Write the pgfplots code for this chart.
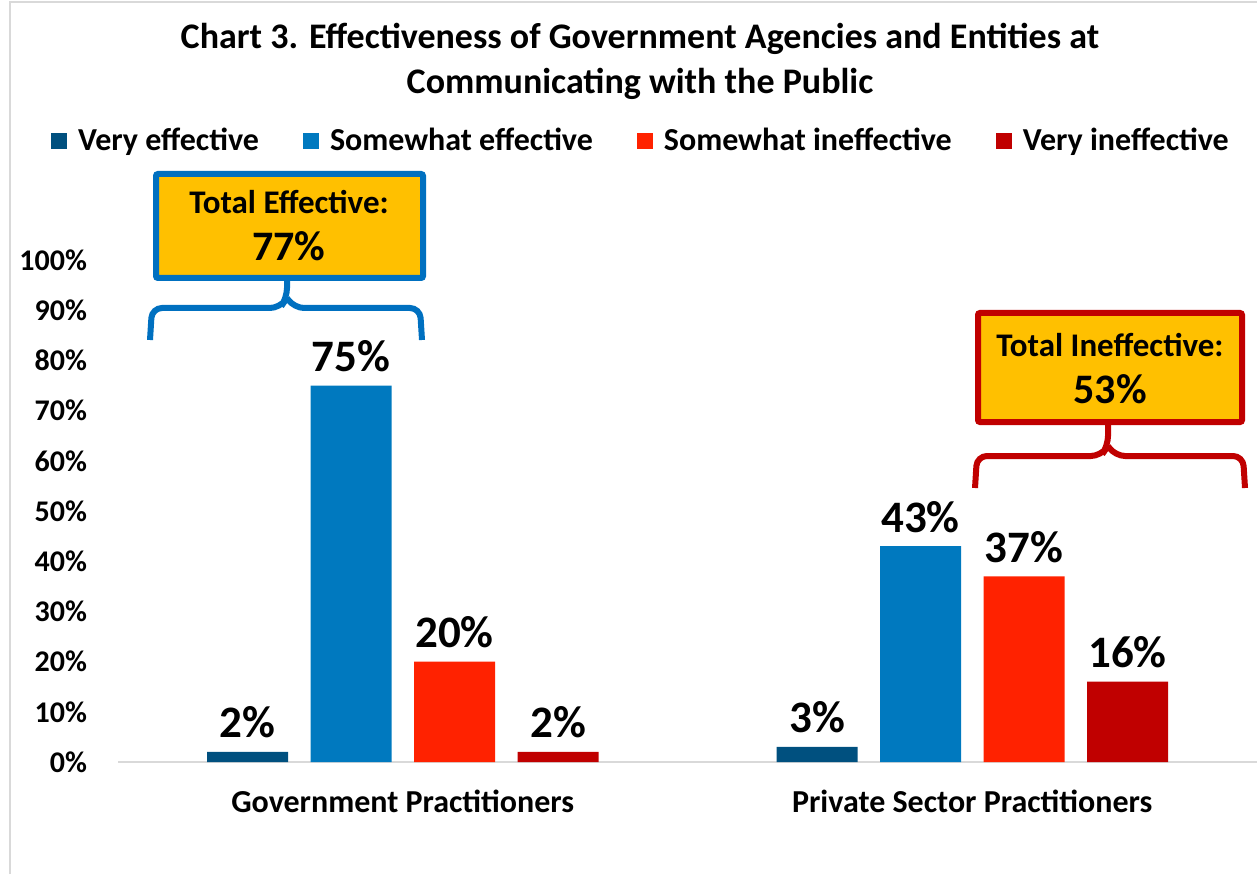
\documentclass[border=0pt]{standalone}
\usepackage{fontspec}
\setmainfont{Carlito}
\usepackage{pgfplots}
\pgfplotsset{compat=1.18}
\definecolor{veff}{HTML}{00507F}
\definecolor{seff}{HTML}{0079BF}
\definecolor{sineff}{HTML}{FF2200}
\definecolor{vineff}{HTML}{C00000}
\definecolor{callgold}{HTML}{FFC000}
\definecolor{callblue}{HTML}{0070C0}
\definecolor{frame}{HTML}{D9D9D9}
\begin{document}
\begin{tikzpicture}
\useasboundingbox (0,0) rectangle (628.5pt,437pt);
\begin{axis}[
  at={(59pt,56pt)}, anchor=south west,
  scale only axis, width=569.5pt, height=251pt,
  xmin=-0.5, xmax=1.5, ymin=0, ymax=100,
  ybar=11.25pt, bar width=40.5pt,
  axis x line*=bottom, axis y line*=left,
  x axis line style={draw=frame, line width=1pt},
  y axis line style={draw=none},
  major tick length=0pt,
  xtick={0,1},
  xticklabels={Government Practitioners, Private Sector Practitioners},
  xticklabel style={font=\fontsize{16}{19}\selectfont\bfseries, yshift=-10.5pt},
  ytick={0,10,...,100},
  yticklabel={\pgfmathprintnumber{\tick}\%},
  /pgf/number format/assume math mode=true,
  yticklabel style={font=\fontsize{15}{18}\selectfont\bfseries, xshift=-12pt},
  nodes near coords={\pgfmathprintnumber[fixed,precision=0]{\pgfplotspointmeta}\%},
  every node near coord/.append style={font=\fontsize{22.5}{26}\selectfont\bfseries, black, anchor=base, yshift=7pt},
  clip=false,
  legend columns=4,
  legend style={at={(0.46,1.237)}, anchor=center, draw=none, fill=none,
    font=\fontsize{16}{19}\selectfont\bfseries,
    /tikz/every even column/.append style={column sep=20pt}},
  legend image code/.code={\fill[#1] (0pt,-4pt) rectangle (8pt,4pt); \path (11.5pt,0pt);},
]
\addplot[fill=veff, draw=none] coordinates {(0,2) (1,3)};
\addplot[fill=seff, draw=none] coordinates {(0,75) (1,43)};
\addplot[fill=sineff, draw=none] coordinates {(0,20) (1,37)};
\addplot[fill=vineff, draw=none] coordinates {(0,2) (1,16)};
\legend{Very effective, Somewhat effective, Somewhat ineffective, Very ineffective}
\end{axis}
\begin{scope}[shift={(0,437pt)}, x=0.5pt, y=-0.5pt]
  % chart frame
  \draw[frame, line width=1pt] (10,874) -- (10,2) -- (1257,2);
  % title
  \node[font=\fontsize{18}{22.5}\selectfont\bfseries, align=center] at (640,61)
    {Chart 3. Effectiveness of Government Agencies and Entities at\\Communicating with the Public};
  % effective callout
  \draw[callblue, line width=3pt, fill=callgold, rounded corners=1pt] (156,174) rectangle (423,278);
  \node[font=\fontsize{16.5}{19}\selectfont\bfseries] at (289,202) {Total Effective:};
  \node[font=\fontsize{21}{24}\selectfont\bfseries] at (289,246) {77\%};
  \draw[callblue, line width=3pt, rounded corners=5pt] (150,340) -- (152,308) -- (280,308) -- (287,298) -- (287,280);
  \draw[callblue, line width=3pt, rounded corners=5pt] (422,340) -- (420,308) -- (294,308) -- (287,298);
  % ineffective callout
  \draw[vineff, line width=3pt, fill=callgold, rounded corners=1pt] (978,313) rectangle (1242,422);
  \node[font=\fontsize{16.5}{19}\selectfont\bfseries] at (1110,345) {Total Ineffective:};
  \node[font=\fontsize{21}{24}\selectfont\bfseries] at (1110,389) {53\%};
  \draw[vineff, line width=3pt, rounded corners=5pt] (975,488) -- (977,456) -- (1101,456) -- (1108,446) -- (1108,424);
  \draw[vineff, line width=3pt, rounded corners=5pt] (1245,488) -- (1243,456) -- (1115,456) -- (1108,446);
\end{scope}
\end{tikzpicture}
\end{document}
